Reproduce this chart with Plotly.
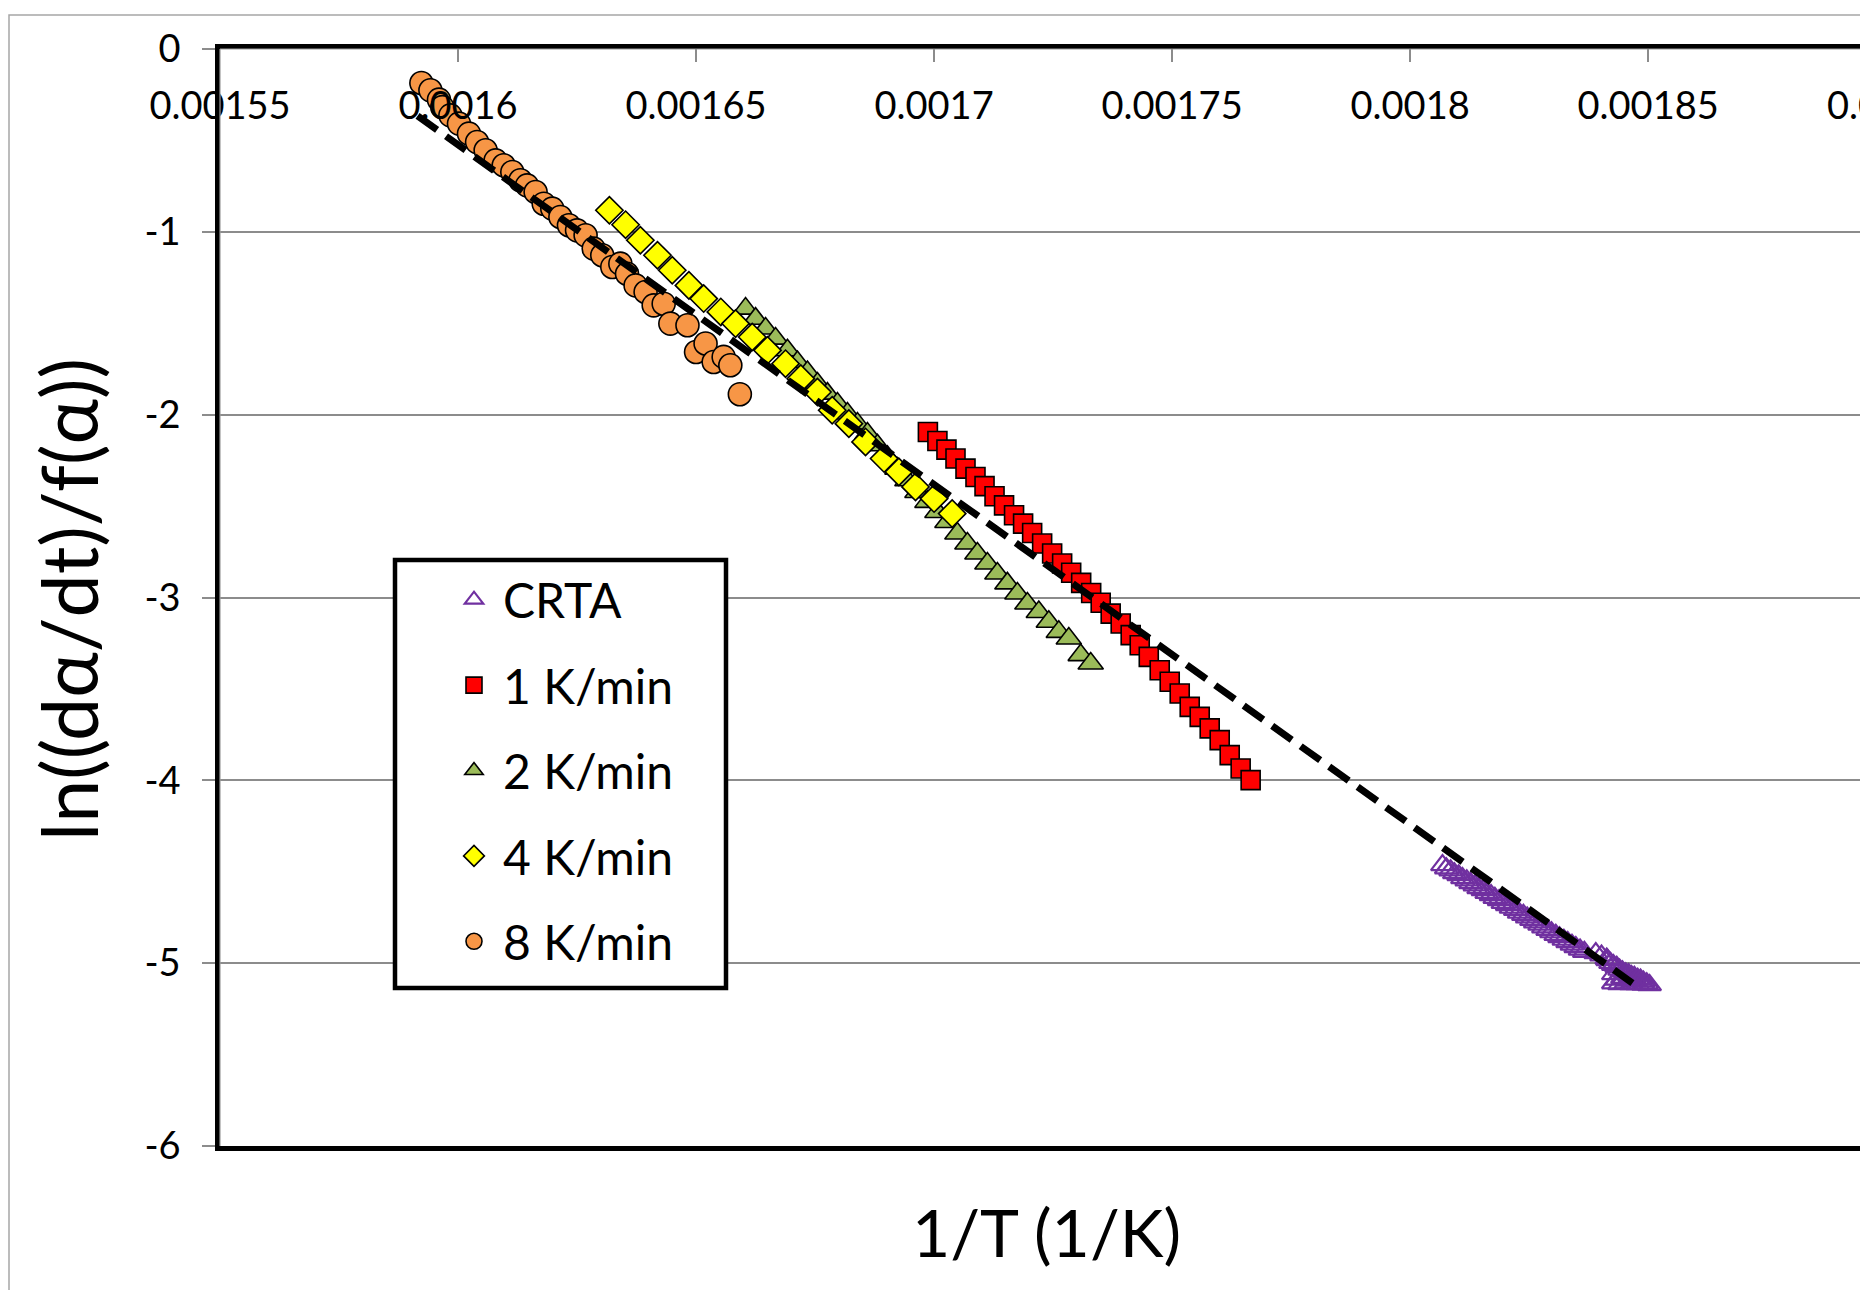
import plotly.graph_objects as go

# ---- axis ticks -------------------------------------------------------
x_tickvals = [0.00155, 0.0016, 0.00165, 0.0017, 0.00175, 0.0018, 0.00185]
x_ticktext = ["0.00155", "0.0016", "0.00165", "0.0017", "0.00175", "0.0018", "0.00185"]
x_edge_tick = 0.0019
x_edge_text = "0.0019"
y_tickvals = [0, -1, -2, -3, -4, -5, -6]
y_ticktext = ["0", "-1", "-2", "-3", "-4", "-5", "-6"]

x_range = [0.00155, 0.0018945]
y_range = [-6, 0]

# ---- series: 1/T (1/K) vs ln((dα/dt)/f(α)) ----------------------------
crta_x = [0.0018068, 0.0018076, 0.0018085, 0.0018093, 0.0018102, 0.0018110, 0.0018119,
          0.0018127, 0.0018136, 0.0018144, 0.0018153, 0.0018161, 0.0018170, 0.0018178,
          0.0018187, 0.0018195, 0.0018204, 0.0018212, 0.0018221, 0.0018229, 0.0018238,
          0.0018246, 0.0018255, 0.0018263, 0.0018272, 0.0018280, 0.0018289, 0.0018297,
          0.0018306, 0.0018314, 0.0018323, 0.0018331, 0.0018340, 0.0018348, 0.0018357,
          0.0018366, 0.0018390, 0.0018402, 0.0018413,
          0.0018415, 0.0018421, 0.0018427, 0.0018427, 0.0018427, 0.0018434, 0.0018434,
          0.0018440, 0.0018440, 0.0018446, 0.0018446, 0.0018453, 0.0018453, 0.0018459,
          0.0018459, 0.0018465, 0.0018465, 0.0018471, 0.0018471, 0.0018478, 0.0018478,
          0.0018484, 0.0018490, 0.0018490, 0.0018497, 0.0018503]
crta_y = [-4.464, -4.481, -4.492, -4.508, -4.519, -4.535, -4.547, -4.562, -4.574, -4.590,
          -4.601, -4.616, -4.628, -4.643, -4.655, -4.670, -4.682, -4.697, -4.709, -4.724,
          -4.736, -4.750, -4.763, -4.777, -4.790, -4.804, -4.818, -4.831, -4.845, -4.858,
          -4.872, -4.885, -4.899, -4.912, -4.926, -4.938, -4.945, -4.958, -4.975,
          -4.983, -4.999, -5.010, -5.060, -5.110, -5.020, -5.090, -5.035, -5.115, -5.045,
          -5.080, -5.055, -5.110, -5.060, -5.095, -5.070, -5.115, -5.075, -5.100, -5.085,
          -5.115, -5.090, -5.100, -5.118, -5.110, -5.120]

k1_x = [0.0016987, 0.0017007, 0.0017026, 0.0017045, 0.0017066, 0.0017087, 0.0017106,
        0.0017127, 0.0017147, 0.0017168, 0.0017187, 0.0017206, 0.0017227, 0.0017248,
        0.0017269, 0.0017288, 0.0017309, 0.0017330, 0.0017350, 0.0017371, 0.0017392,
        0.0017413, 0.0017432, 0.0017451, 0.0017474, 0.0017495, 0.0017516, 0.0017537,
        0.0017558, 0.0017579, 0.0017600, 0.0017621, 0.0017644, 0.0017665]
k1_y = [-2.095, -2.144, -2.191, -2.240, -2.295, -2.341, -2.391, -2.446, -2.496, -2.550,
        -2.596, -2.647, -2.705, -2.759, -2.814, -2.865, -2.920, -2.975, -3.029, -3.088,
        -3.142, -3.206, -3.261, -3.325, -3.398, -3.461, -3.525, -3.598, -3.653, -3.716,
        -3.780, -3.862, -3.935, -3.999]

k2_x = [0.0016604, 0.0016625, 0.0016646, 0.0016667, 0.0016692, 0.0016713, 0.0016734,
        0.0016755, 0.0016776, 0.0016797, 0.0016818, 0.0016839, 0.0016860, 0.0016881,
        0.0016902, 0.0016923, 0.0016944, 0.0016965, 0.0016986, 0.0017007, 0.0017028,
        0.0017049, 0.0017070, 0.0017091, 0.0017112, 0.0017133, 0.0017154, 0.0017175,
        0.0017196, 0.0017220, 0.0017241, 0.0017262, 0.0017283, 0.0017308, 0.0017329]
k2_y = [-1.420, -1.475, -1.529, -1.584, -1.648, -1.712, -1.767, -1.830, -1.885, -1.939,
        -1.994, -2.049, -2.103, -2.167, -2.231, -2.295, -2.359, -2.423, -2.477, -2.532,
        -2.587, -2.650, -2.705, -2.759, -2.814, -2.869, -2.923, -2.978, -3.033, -3.079,
        -3.133, -3.188, -3.224, -3.315, -3.361]

k4_x = [0.0016318, 0.0016352, 0.0016383, 0.0016419, 0.0016450, 0.0016485, 0.0016516,
        0.0016552, 0.0016583, 0.0016618, 0.0016650, 0.0016688, 0.0016720, 0.0016755,
        0.0016786, 0.0016821, 0.0016856, 0.0016895, 0.0016926, 0.0016961, 0.0017000,
        0.0017038]
k4_y = [-0.882, -0.961, -1.046, -1.128, -1.210, -1.293, -1.365, -1.438, -1.502, -1.575,
        -1.648, -1.721, -1.803, -1.876, -1.976, -2.049, -2.149, -2.240, -2.313, -2.395,
        -2.459, -2.541]

k8_x = [0.0015923, 0.0015942, 0.0015960, 0.0015967, 0.0015984, 0.0016002, 0.0016023,
        0.0016040, 0.0016058, 0.0016079, 0.0016096, 0.0016114, 0.0016131, 0.0016145,
        0.0016163, 0.0016180, 0.0016198, 0.0016215, 0.0016233, 0.0016250, 0.0016268,
        0.0016285, 0.0016303, 0.0016324, 0.0016341, 0.0016355, 0.0016373, 0.0016394,
        0.0016411, 0.0016432, 0.0016446, 0.0016482, 0.0016500, 0.0016520, 0.0016537,
        0.0016558, 0.0016572, 0.0016592]
k8_y = [-0.186, -0.226, -0.277, -0.318, -0.363, -0.408, -0.463, -0.509, -0.554, -0.609,
        -0.636, -0.673, -0.718, -0.746, -0.782, -0.846, -0.873, -0.919, -0.964, -0.992,
        -1.019, -1.092, -1.128, -1.192, -1.174, -1.229, -1.293, -1.329, -1.402, -1.393,
        -1.502, -1.511, -1.657, -1.611, -1.712, -1.684, -1.730, -1.888]

# linear fit over all heating rates
fit_x = [0.0015915, 0.0018467]
fit_y = [-0.366, -5.109]

FONT = "Lato, 'Noto Sans', sans-serif"
GRID = "#8c8c8c"

fig = go.Figure()

series = [
    ("CRTA", crta_x, crta_y, dict(symbol="triangle-up-open", size=20, color="#7030A0",
                                  line=dict(color="#7030A0", width=2.2))),
    ("1 K/min", k1_x, k1_y, dict(symbol="square", size=19, color="#FF0000",
                                 line=dict(color="black", width=1.6))),
    ("2 K/min", k2_x, k2_y, dict(symbol="triangle-up", size=22, color="#9BBB59",
                                 line=dict(color="black", width=1.6))),
    ("4 K/min", k4_x, k4_y, dict(symbol="diamond", size=21, color="#FFFF00",
                                 line=dict(color="black", width=1.6))),
    ("8 K/min", k8_x, k8_y, dict(symbol="circle", size=23, color="#F79646",
                                 line=dict(color="black", width=1.6))),
]
for name, xs, ys, mk in series:
    fig.add_trace(go.Scatter(x=xs, y=ys, mode="markers", name=name, marker=mk,
                             legendgroup=name))

fig.add_trace(go.Scatter(x=fit_x, y=fit_y, mode="lines", showlegend=False,
                         line=dict(color="black", width=7, dash="24px,11px")))

# plot-area size in pixels, used to place the outer decorations
W, H = 1860, 1290
ML, MR, MT, MB = 220, 0, 49, 144
PW, PH = W - ML - MR, H - MT - MB


def px_x(p):
    return (p - ML) / PW


def px_y(p):
    return 1 - (p - MT) / PH


edge_frac = (x_edge_tick - x_range[0]) / (x_range[1] - x_range[0])

fig.update_layout(
    width=W, height=H,
    margin=dict(l=ML, r=MR, t=MT, b=MB, pad=0),
    paper_bgcolor="white", plot_bgcolor="white",
    font=dict(family=FONT, color="black"),
    showlegend=True,
    legend=dict(
        x=px_x(445), y=px_y(562), xanchor="left", yanchor="top",
        bgcolor="rgba(0,0,0,0)", borderwidth=0,
        font=dict(family=FONT, size=48, color="black"),
        traceorder="grouped", tracegroupgap=20, itemsizing="trace", itemwidth=48,
    ),
    xaxis=dict(
        range=x_range, side="top", showgrid=False, zeroline=False,
        tickvals=x_tickvals, ticktext=x_ticktext,
        ticks="inside", ticklen=13, tickwidth=1.5, tickcolor="#8c8c8c",
        ticklabelposition="inside", ticklabeloverflow="allow", ticklabelstandoff=35,
        tickfont=dict(family=FONT, size=38, color="black"),
        showline=True, linecolor="black", linewidth=4.5, mirror=True,
    ),
    yaxis=dict(
        range=y_range, showgrid=True, gridcolor=GRID, gridwidth=1.5, zeroline=False,
        tickvals=y_tickvals, ticktext=y_ticktext,
        ticks="outside", ticklen=13, tickwidth=1.5, tickcolor="#8c8c8c",
        ticklabelstandoff=14,
        tickfont=dict(family=FONT, size=38, color="black"),
        showline=True, linecolor="black", linewidth=4.5,
    ),
    shapes=[
        # outer chart-area border
        dict(type="rect", xref="paper", yref="paper", x0=px_x(9), x1=px_x(1900),
             y0=px_y(1330), y1=px_y(15), line=dict(color="#a6a6a6", width=1.5),
             fillcolor="rgba(0,0,0,0)", layer="below"),
        # light centre stroke giving the top and left axis lines a doubled look
        dict(type="line", xref="paper", yref="paper", x0=0, x1=1.02, y0=1, y1=1,
             line=dict(color="#9a9a9a", width=1.2), layer="above"),
        dict(type="line", xref="paper", yref="paper", x0=0, x1=0, y0=0, y1=1,
             line=dict(color="#9a9a9a", width=1.2), layer="above"),
        # legend frame
        dict(type="rect", xref="paper", yref="paper", x0=px_x(395), x1=px_x(726),
             y0=px_y(988), y1=px_y(560), line=dict(color="black", width=4.5),
             fillcolor="white", layer="above"),
    ],
    annotations=[
        dict(text="1/T (1/K)", xref="paper", yref="paper", x=px_x(1046), y=px_y(1231),
             xanchor="center", yanchor="middle", showarrow=False,
             font=dict(family=FONT, size=66, color="black")),
        dict(text="ln((dα/dt)/f(α))", xref="paper", yref="paper", x=px_x(68), y=px_y(600),
             xanchor="center", yanchor="middle", showarrow=False, textangle=-90,
             font=dict(family=FONT, size=77, color="black")),
        # label of the last x tick, which sits just past the right edge
        dict(text=x_edge_text, xref="paper", yref="paper", x=edge_frac, y=px_y(104),
             xanchor="center", yanchor="middle", showarrow=False,
             font=dict(family=FONT, size=38, color="black")),
    ],
)

fig.write_html("out.html")
